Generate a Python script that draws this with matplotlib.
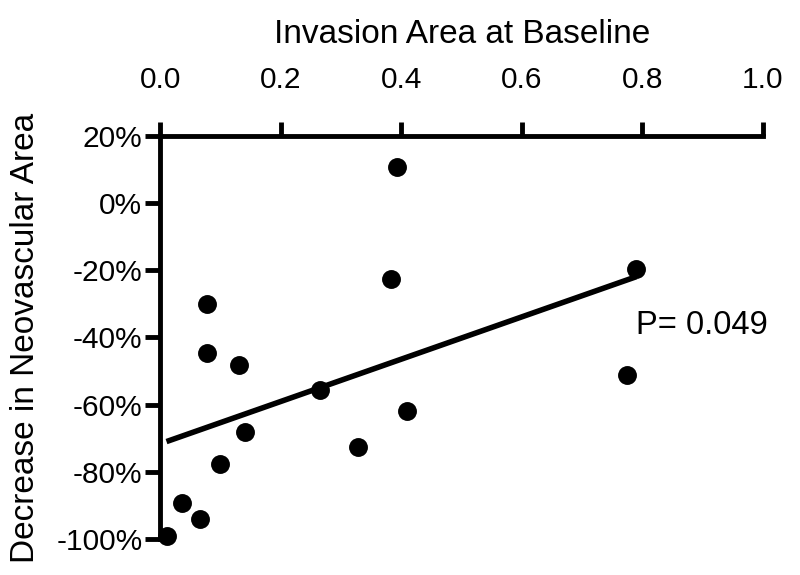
import numpy as np
import matplotlib
matplotlib.use('Agg')
import matplotlib.pyplot as plt

plt.rcParams['font.family'] = ['Liberation Sans', 'DejaVu Sans']

# invasion area at baseline vs decrease in neovascular area (%)
invasion = [0.393, 0.382, 0.078, 0.077, 0.131, 0.264, 0.410, 0.141,
            0.328, 0.098, 0.036, 0.065, 0.010, 0.790, 0.775]
decrease = [10.8, -22.7, -30.1, -44.6, -48.1, -55.5, -62.0, -68.0,
            -72.6, -77.7, -89.3, -94.1, -99.1, -19.5, -51.3]
xticks = [0.0, 0.2, 0.4, 0.6, 0.8, 1.0]
yticks = [20, 0, -20, -40, -60, -80, -100]
p_text = 'P= 0.049'

fig = plt.figure(figsize=(8, 5.75), dpi=100)
ax = fig.add_axes([0.2006, 0.0626, 0.7531, 0.7009])

ax.scatter(invasion, decrease, s=185, color='black', zorder=3, clip_on=False, linewidths=0)

slope, icpt = np.polyfit(invasion, decrease, 1)
xs = np.array([min(invasion), max(invasion)])
ax.plot(xs, slope * xs + icpt, color='black', lw=4, solid_capstyle='butt', zorder=2)

ax.text(0.789, -36.5, p_text, fontsize=23.5, ha='left', va='center')

ax.set_xlim(0, 1.0)
ax.set_ylim(-100, 20)
ax.set_xticks(xticks)
ax.set_xticklabels(['%.1f' % v for v in xticks])
ax.set_yticks(yticks)
ax.set_yticklabels(['%d%%' % v for v in yticks])

for s in ['right', 'bottom']:
    ax.spines[s].set_visible(False)
for s in ['top', 'left']:
    ax.spines[s].set_linewidth(3.5)
    ax.spines[s].set_capstyle('projecting')

ax.xaxis.tick_top()
ax.xaxis.set_label_position('top')
ax.tick_params(axis='x', direction='out', length=10, width=3.5, pad=20, labelsize=21.5)
ax.tick_params(axis='y', direction='out', length=11, width=3.5, pad=2, labelsize=21.5)

ax.set_xlabel('Invasion Area at Baseline', fontsize=24, labelpad=17)
ax.set_ylabel('Decrease in Neovascular Area', fontsize=24, labelpad=11)

fig.savefig('out.png', dpi=100)
